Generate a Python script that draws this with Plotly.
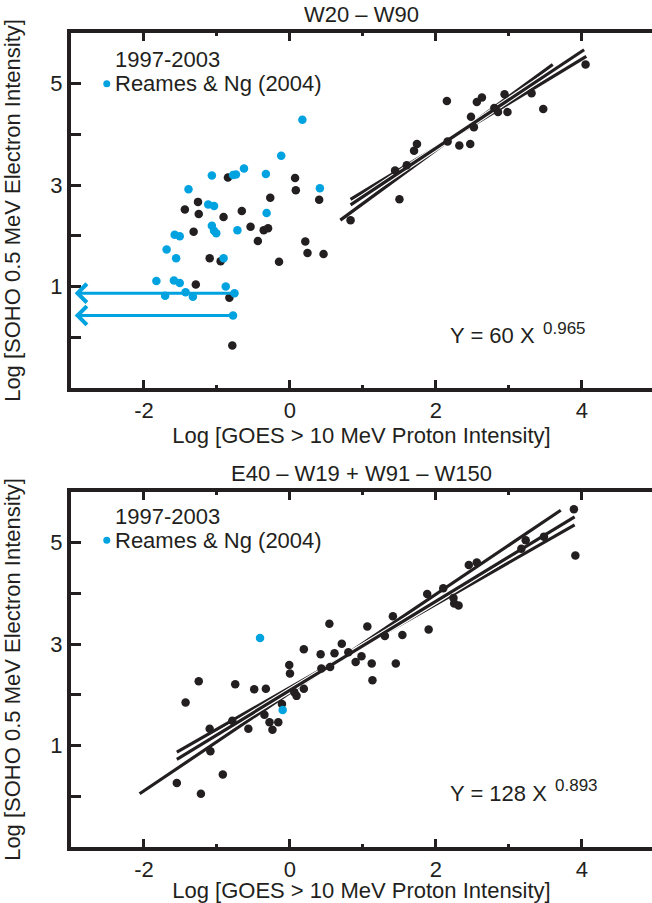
import plotly.graph_objects as go

BLACK = '#231f20'
BLUE = '#00a3e0'
FONT = 'Liberation Sans, Arial, Helvetica, sans-serif'

# ---------------- data: top panel (W20 - W90) ----------------
top_black_x = [-0.85, 0.07, 0.08, 0.40, -1.26, -0.27, -1.44, -0.66, -1.25, -0.91,
               -0.54, -0.36, -0.30, -1.32, -0.44, 0.21, 0.24, 0.46, -0.15, -1.10,
               -0.95, -1.29, -0.83, -0.79, 0.83, 1.50, 1.44, 1.60, 1.70, 1.74,
               2.15, 2.16, 2.32, 2.47, 2.48, 2.52, 2.56, 2.63, 2.80, 2.85,
               2.94, 2.98, 3.31, 3.47, 4.05]
top_black_y = [3.15, 3.14, 2.90, 2.71, 2.67, 2.75, 2.52, 2.49, 2.43, 2.37,
               2.18, 2.11, 2.15, 2.08, 1.90, 1.89, 1.66, 1.64, 1.49, 1.56,
               1.50, 1.04, 0.78, -0.16, 2.31, 2.72, 3.29, 3.39, 3.68, 3.81,
               4.66, 3.86, 3.78, 3.81, 4.35, 4.14, 4.64, 4.73, 4.52, 4.44,
               4.79, 4.44, 4.81, 4.50, 5.38]
top_blue_x = [0.17, -0.12, -0.63, -0.74, -0.78, -1.07, -0.33, -1.39, 0.41, -1.12,
              -1.04, -0.32, -1.07, -1.04, -1.01, -0.72, -1.58, -1.51, -1.69, -1.56,
              -0.91, -1.83, -1.59, -1.51, -0.88, -1.71, -1.43, -1.33, -0.76, -0.78]
top_blue_y = [4.29, 3.58, 3.33, 3.21, 3.20, 3.19, 3.22, 2.92, 2.94, 2.62,
              2.59, 2.45, 2.20, 2.10, 2.05, 2.11, 2.02, 1.99, 1.73, 1.56,
              1.56, 1.11, 1.12, 1.07, 1.00, 0.82, 0.89, 0.80, 0.87, 0.43]
# fitted lines (start/end in log units)
top_fit_x0 = [0.69, 0.83, 0.83]
top_fit_y0 = [2.31, 2.72, 2.61]
top_fit_x1 = [3.60, 4.06, 4.03]
top_fit_y1 = [5.38, 5.54, 5.67]
# upper limits (arrows) from these points to the axis
arrow_tail_x = [-0.76, -0.78]
arrow_tail_y = [0.87, 0.43]
arrow_head_x = -2.95

# ---------------- data: bottom panel (E40 - W19 + W91 - W150) ----------------
bot_black_x = [3.89, 3.91, 3.23, 3.17, 3.48, 2.45, 2.56, 2.10, 1.88, 2.24,
               2.25, 2.31, 1.41, 1.06, 0.54, 1.30, 1.54, 1.90, 0.71, 0.19,
               0.42, 0.61, 0.80, 0.98, 0.90, 1.12, 1.45, 1.13, 0.43, 0.55,
               -0.01, 0.00, -1.25, -0.75, -0.49, -0.33, -1.43, 0.19, 0.09, 0.06,
               -0.11, -0.35, -0.79, -1.10, -0.57, -0.28, -0.16, -0.24, -1.09, -0.92,
               -1.55, -1.22]
bot_black_y = [5.66, 4.75, 5.05, 4.88, 5.12, 4.56, 4.61, 4.10, 3.99, 3.91,
               3.80, 3.76, 3.55, 3.35, 3.40, 3.16, 3.18, 3.29, 3.01, 2.90,
               2.80, 2.82, 2.84, 2.76, 2.65, 2.62, 2.62, 2.29, 2.52, 2.55,
               2.59, 2.42, 2.27, 2.21, 2.11, 2.12, 1.85, 2.12, 1.98, 2.05,
               1.82, 1.61, 1.49, 1.33, 1.33, 1.46, 1.46, 1.31, 0.89, 0.43,
               0.26, 0.05]
bot_blue_x = [-0.41, -0.10]
bot_blue_y = [3.12, 1.70]
bot_fit_x0 = [-2.06, -1.55, -1.55]
bot_fit_y0 = [0.05, 0.87, 0.73]
bot_fit_x1 = [3.71, 3.90, 3.90]
bot_fit_y1 = [5.64, 5.35, 5.51]

# ---------------- texts ----------------
panel_titles = ['W20 \u2013 W90', 'E40 \u2013 W19 + W91 \u2013 W150']
eq_main = ['Y = 60 X', 'Y = 128 X']
eq_power = ['0.965', '0.893']
eq_x = [2.17, 2.17]
eq_y = [0.03, 0.06]
eq_power_x = [3.44, 3.61]
eq_power_y = [0.18, 0.22]
legend_years = '1997-2003'
legend_blue = 'Reames & Ng (2004)'
legend_x = [-2.51, -2.51]
legend_year_y = [5.48, 5.52]
legend_blue_y = [5.00, 5.05]
x_title = 'Log [GOES > 10 MeV Proton Intensity]'
y_title = 'Log [SOHO 0.5 MeV Electron Intensity]'
x_tickvals = [-2, 0, 2, 4]
x_ticktext = ['-2', '0', '2', '4']
x_minorvals = [-1, 1, 3]
y_tickvals = [0, 1, 2, 3, 4, 5]
y_ticktext = ['', '1', '', '3', '', '5']

fig = go.Figure()

panels = [
    dict(bx=top_black_x, by=top_black_y, cx=top_blue_x, cy=top_blue_y,
         fx0=top_fit_x0, fy0=top_fit_y0, fx1=top_fit_x1, fy1=top_fit_y1, xa='x', ya='y'),
    dict(bx=bot_black_x, by=bot_black_y, cx=bot_blue_x, cy=bot_blue_y,
         fx0=bot_fit_x0, fy0=bot_fit_y0, fx1=bot_fit_x1, fy1=bot_fit_y1, xa='x2', ya='y2'),
]

for i, p in enumerate(panels):
    # fit lines with thin white outline
    for k in range(3):
        xs = [p['fx0'][k], p['fx1'][k]]
        ys = [p['fy0'][k], p['fy1'][k]]
        fig.add_trace(go.Scatter(x=xs, y=ys, mode='lines', xaxis=p['xa'], yaxis=p['ya'],
                                 line=dict(color='white', width=5.5), showlegend=False, hoverinfo='skip'))
        fig.add_trace(go.Scatter(x=xs, y=ys, mode='lines', xaxis=p['xa'], yaxis=p['ya'],
                                 line=dict(color=BLACK, width=3.2), showlegend=False, hoverinfo='skip'))
    fig.add_trace(go.Scatter(x=p['bx'], y=p['by'], mode='markers', xaxis=p['xa'], yaxis=p['ya'],
                             marker=dict(color=BLACK, size=8.5), showlegend=False))
    fig.add_trace(go.Scatter(x=p['cx'], y=p['cy'], mode='markers', xaxis=p['xa'], yaxis=p['ya'],
                             marker=dict(color=BLUE, size=8.5), showlegend=False))
    # legend dot
    fig.add_trace(go.Scatter(x=[legend_x[i]], y=[legend_blue_y[i]], mode='markers',
                             xaxis=p['xa'], yaxis=p['ya'],
                             marker=dict(color=BLUE, size=7), showlegend=False))

annotations = []
for i, (xa, ya) in enumerate([('x', 'y'), ('x2', 'y2')]):
    annotations.append(dict(text=panel_titles[i], xref=xa + ' domain', yref=ya + ' domain',
                            x=0.5, y=1, xanchor='center', yanchor='bottom', yshift=4,
                            showarrow=False, font=dict(size=22, color=BLACK, family=FONT)))
    annotations.append(dict(text=eq_main[i], xref=xa, yref=ya, x=eq_x[i], y=eq_y[i],
                            xanchor='left', yanchor='middle', showarrow=False,
                            font=dict(size=22, color=BLACK, family=FONT)))
    annotations.append(dict(text=eq_power[i], xref=xa, yref=ya, x=eq_power_x[i], y=eq_power_y[i],
                            xanchor='left', yanchor='middle', showarrow=False,
                            font=dict(size=17, color=BLACK, family=FONT)))
    annotations.append(dict(text=legend_years, xref=xa, yref=ya, x=legend_x[i], y=legend_year_y[i],
                            xanchor='left', yanchor='middle', xshift=6, showarrow=False,
                            font=dict(size=22, color=BLACK, family=FONT)))
    annotations.append(dict(text=legend_blue, xref=xa, yref=ya, x=legend_x[i], y=legend_blue_y[i],
                            xanchor='left', yanchor='middle', xshift=6, showarrow=False,
                            font=dict(size=22, color=BLACK, family=FONT)))

for tx, ty in zip(arrow_tail_x, arrow_tail_y):
    annotations.append(dict(x=arrow_head_x, y=ty, ax=tx, ay=ty, xref='x', yref='y',
                            axref='x', ayref='y', showarrow=True, arrowhead=4, arrowsize=1.2,
                            arrowwidth=3, arrowcolor=BLUE, text=''))

axis_common_x = dict(range=[-3, 4.96], showline=True, linecolor=BLACK, linewidth=4,
                     mirror='allticks', ticks='inside', ticklen=8, tickwidth=3, tickcolor=BLACK,
                     tickvals=x_tickvals, ticktext=x_ticktext, showgrid=False, zeroline=False,
                     minor=dict(tickvals=x_minorvals, ticks='inside', ticklen=3, tickwidth=3,
                                tickcolor=BLACK),
                     tickfont=dict(size=22, color=BLACK, family=FONT),
                     title=dict(text=x_title, font=dict(size=22, color=BLACK, family=FONT), standoff=0))
axis_common_y = dict(range=[-1, 6], showline=True, linecolor=BLACK, linewidth=4, mirror=False,
                     ticks='inside', ticklen=10, tickwidth=3, tickcolor=BLACK,
                     tickvals=y_tickvals, ticktext=y_ticktext, showgrid=False, zeroline=False,
                     tickfont=dict(size=22, color=BLACK, family=FONT),
                     title=dict(text=y_title, font=dict(size=22, color=BLACK, family=FONT), standoff=26))

top_dom = [1 - 355 / 814, 1]
bot_dom = [0, 355 / 814]

fig.update_layout(
    width=652, height=903,
    margin=dict(l=71, r=0, t=33, b=56, autoexpand=False),
    paper_bgcolor='white', plot_bgcolor='white',
    xaxis=dict(axis_common_x, domain=[0, 1], anchor='y'),
    yaxis=dict(axis_common_y, domain=top_dom, anchor='x'),
    xaxis2=dict(axis_common_x, domain=[0, 1], anchor='y2'),
    yaxis2=dict(axis_common_y, domain=bot_dom, anchor='x2'),
    annotations=annotations,
    showlegend=False,
)

fig.write_html("out.html", config={'displayModeBar': False},
               post_script="document.body.style.margin='0';")
